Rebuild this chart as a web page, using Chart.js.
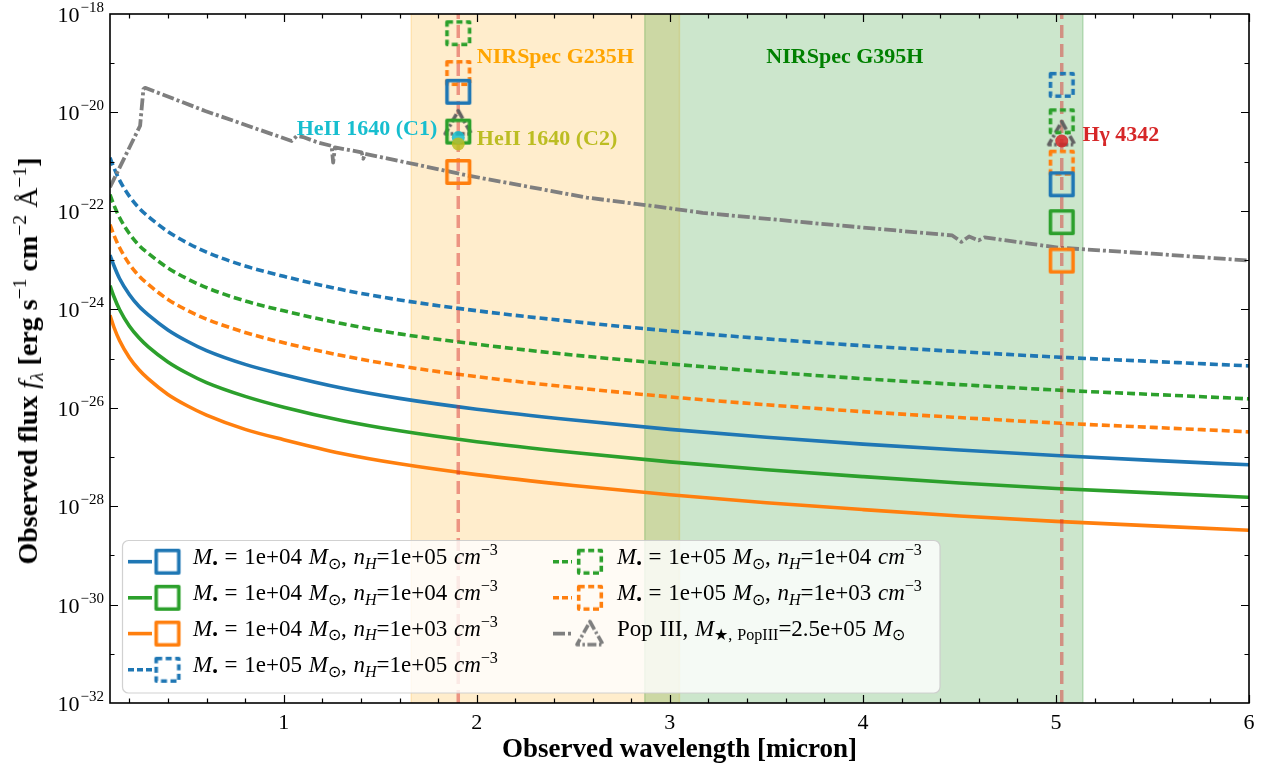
<!DOCTYPE html>
<html>
<head>
<meta charset="utf-8">
<script src="https://cdn.jsdelivr.net/npm/chart.js@4.4.1/dist/chart.umd.min.js"></script>
<style>
  html, body { margin: 0; padding: 0; background: #fff; }
  #wrap { position: relative; width: 1271px; height: 770px; overflow: hidden; }
  #wrap canvas { position: absolute; left: 0; top: 0; }
  .ytitle {
    position: absolute; left: 28px; top: 361px;
    transform: translate(-50%, -50%) rotate(-90deg);
    font: bold 28px "Liberation Serif", serif; line-height: 28px; white-space: nowrap;
  }
  .ytitle .m { font-weight: normal; }
  .leg {
    position: absolute; height: 36px; line-height: 36px; white-space: nowrap;
    font: 23px "Liberation Serif", serif; word-spacing: 1px; color: #000;
  }
  sup, sub { font-size: 0.7em; line-height: 0; position: relative; vertical-align: baseline; }
  sup { top: -0.55em; }
  sub { top: 0.3em; }
</style>
</head>
<body>
<div id="wrap">
  <canvas id="sed" width="1271" height="770"></canvas>
  <div class="ytitle">Observed flux <i class="m">f</i><sub class="m"><i>λ</i></sub> [erg s<sup class="m">−1</sup> cm<sup class="m">−2</sup> <span class="m">Å</span><sup class="m">−1</sup>]</div>
</div>
<script>
// wavelength grid (micron) for the model continua
const waveGrid = [0.1, 0.12, 0.15, 0.2, 0.25, 0.3, 0.4, 0.5, 0.6, 0.8, 1.0, 1.3, 1.6, 2.0, 2.5, 3.0, 3.5, 4.0, 4.5, 5.0, 5.5, 6.0];

// log10 flux of each model continuum
const logM4n5 = [-22.90, -23.11, -23.38, -23.70, -23.94, -24.12, -24.42, -24.65, -24.84, -25.12, -25.33, -25.60, -25.81, -26.03, -26.25, -26.44, -26.60, -26.74, -26.86, -26.97, -27.07, -27.16];
const logM4n4 = [-23.52, -23.74, -24.01, -24.34, -24.58, -24.77, -25.07, -25.30, -25.49, -25.77, -25.99, -26.26, -26.47, -26.69, -26.91, -27.10, -27.26, -27.40, -27.53, -27.64, -27.73, -27.82];
const logM4n3 = [-24.12, -24.36, -24.64, -24.98, -25.23, -25.42, -25.73, -25.96, -26.15, -26.44, -26.65, -26.93, -27.14, -27.36, -27.58, -27.77, -27.93, -28.07, -28.20, -28.31, -28.40, -28.49];
const logM5n5 = [-20.92, -21.12, -21.38, -21.70, -21.94, -22.12, -22.42, -22.65, -22.84, -23.12, -23.33, -23.60, -23.81, -24.03, -24.25, -24.44, -24.60, -24.74, -24.86, -24.97, -25.06, -25.15];
const logM5n4 = [-21.67, -21.88, -22.14, -22.46, -22.70, -22.87, -23.16, -23.38, -23.56, -23.83, -24.03, -24.29, -24.50, -24.71, -24.93, -25.11, -25.27, -25.41, -25.53, -25.64, -25.73, -25.82];
const logM5n3 = [-22.28, -22.49, -22.75, -23.08, -23.32, -23.50, -23.80, -24.02, -24.20, -24.47, -24.68, -24.94, -25.15, -25.37, -25.59, -25.78, -25.94, -26.08, -26.20, -26.31, -26.40, -26.49];

// Pop III spectrum
const popWave = [0.1, 0.256, 0.273, 0.282, 0.593, 1.041, 1.067, 1.10, 1.177, 1.248, 1.256, 1.265, 1.403, 1.412, 1.421, 1.964, 2.569, 2.91, 3.17, 3.775, 4.463, 4.51, 4.55, 4.60, 4.63, 5.017, 5.50, 6.0];
const popLog  = [-21.52, -20.27, -19.53, -19.50, -19.97, -20.58, -20.48, -20.50, -20.61, -20.68, -21.02, -20.71, -20.81, -20.94, -20.84, -21.29, -21.73, -21.90, -22.04, -22.26, -22.50, -22.63, -22.52, -22.60, -22.54, -22.75, -22.87, -23.01];

// emission lines: HeII 1640 and Hgamma 4342 (observed micron)
const lineWaves = [1.904, 5.03];
const lineM4n5 = [-19.58, -21.46];
const lineM4n4 = [-20.39, -22.23];
const lineM4n3 = [-21.21, -23.01];
const lineM5n5 = [null, -19.44];
const lineM5n4 = [-18.39, -20.18];
const lineM5n3 = [-19.20, -21.02];
const linePop  = [-20.21, -20.43];

// observed line fluxes: HeII (C1), HeII (C2), Hgamma
const obsWave = [1.904, 1.904, 5.03];
const obsLog  = [-20.51, -20.64, -20.58];

// NIRSpec grating ranges (micron)
const g235h = [1.66, 3.05];
const g395h = [2.87, 5.14];

// axis ticks
const xTickLabels = [1, 2, 3, 4, 5, 6];
const yTickExps = [-32, -30, -28, -26, -24, -22, -20, -18];

const BLUE = '#1f77b4', GREEN = '#2ca02c', ORANGE = '#ff7f0e', GRAY = '#7f7f7f';
const SERIF = '"Liberation Serif", serif';

const pts = (xs, logs) => xs.map((x, i) => ({ x: x, y: logs[i] == null ? null : Math.pow(10, logs[i]) }));

function squareMarker(color, dash) {
    const c = document.createElement('canvas');
    c.width = 32; c.height = 32;
    const g = c.getContext('2d');
    g.strokeStyle = color;
    g.lineWidth = 3.6;
    g.lineJoin = 'round';
    g.setLineDash(dash);
    g.strokeRect(4.7, 4.7, 22.6, 22.6);
    return c;
}

function triangleMarker(color) {
    const c = document.createElement('canvas');
    c.width = 34; c.height = 32;
    const g = c.getContext('2d');
    g.strokeStyle = color;
    g.lineWidth = 3.6;
    g.lineJoin = 'round';
    g.setLineDash([9, 2.5, 2.5, 2.5]);
    g.beginPath();
    g.moveTo(17, 4);
    g.lineTo(30, 27);
    g.lineTo(4, 27);
    g.closePath();
    g.stroke();
    return c;
}

const markers = {
    m4n5: squareMarker(BLUE, []),
    m4n4: squareMarker(GREEN, []),
    m4n3: squareMarker(ORANGE, []),
    m5n5: squareMarker(BLUE, [6, 3.5]),
    m5n4: squareMarker(GREEN, [6, 3.5]),
    m5n3: squareMarker(ORANGE, [6, 3.5]),
    pop: triangleMarker('#626262'),
    popLeg: triangleMarker(GRAY)
};

const curve = (data, color, dashed) => ({
    data: data,
    showLine: true,
    borderColor: color,
    borderWidth: 3.6,
    borderDash: dashed ? [8, 4] : [],
    borderJoinStyle: 'round',
    pointRadius: 0,
    cubicInterpolationMode: 'monotone',
    fill: false,
    order: 5
});

const markerSet = (data, img) => ({
    data: data,
    showLine: false,
    pointStyle: img,
    pointRadius: 14,
    borderWidth: 0,
    order: 1
});

const vline = (x) => ({
    data: [{ x: x, y: 1e-32 }, { x: x, y: 1e-18 }],
    showLine: true,
    borderColor: 'rgba(214,39,40,0.45)',
    borderWidth: 3.5,
    borderDash: [13, 6],
    pointRadius: 0,
    order: 2
});

const datasets = [
    curve(pts(waveGrid, logM4n5), BLUE, false),
    curve(pts(waveGrid, logM4n4), GREEN, false),
    curve(pts(waveGrid, logM4n3), ORANGE, false),
    curve(pts(waveGrid, logM5n5), BLUE, true),
    curve(pts(waveGrid, logM5n4), GREEN, true),
    curve(pts(waveGrid, logM5n3), ORANGE, true),
    {
        data: pts(popWave, popLog),
        showLine: true,
        borderColor: GRAY,
        borderWidth: 3.8,
        borderDash: [12, 3, 3, 3],
        borderJoinStyle: 'round',
        pointRadius: 0,
        tension: 0,
        order: 3
    },
    vline(lineWaves[0]),
    vline(lineWaves[1]),
    markerSet(pts(lineWaves, lineM4n5), markers.m4n5),
    markerSet(pts(lineWaves, lineM4n4), markers.m4n4),
    markerSet(pts(lineWaves, lineM4n3), markers.m4n3),
    markerSet(pts(lineWaves, lineM5n5), markers.m5n5),
    markerSet(pts(lineWaves, lineM5n4), markers.m5n4),
    markerSet(pts(lineWaves, lineM5n3), markers.m5n3),
    markerSet(pts(lineWaves, linePop), markers.pop),
    {
        data: pts(obsWave, obsLog),
        showLine: false,
        pointRadius: 6.5,
        pointBorderWidth: 0,
        pointBackgroundColor: ['rgba(23,190,207,0.85)', 'rgba(188,189,34,0.85)', 'rgba(214,39,40,0.85)'],
        order: 0
    }
];

// text annotations placed in data coordinates
const annotations = [
    { text: 'NIRSpec G235H', x: 2.0, y: 1e-19, align: 'left', color: '#ffa500' },
    { text: 'NIRSpec G395H', x: 3.5, y: 1e-19, align: 'left', color: '#008000' },
    { text: 'HeII 1640 (C1)', x: 1.795, y: Math.pow(10, -20.45), align: 'right', color: '#17becf' },
    { text: 'HeII 1640 (C2)', x: 2.0, y: Math.pow(10, -20.66), align: 'left', color: '#bcbd22' },
    { text: 'Hγ 4342', x: 5.137, y: Math.pow(10, -20.58), align: 'left', color: '#d62728' }
];

const legendBox = { left: 122.5, top: 540.5, right: 940, bottom: 693 };
const legendCols = [
    { lineFrom: 128, lineTo: 152, marker: 167.5, text: 193 },
    { lineFrom: 553, lineTo: 572, marker: 590, text: 617 }
];
const legendRowY = [561.7, 597.8, 633.6, 669.8];
const legendEntries = [
    { col: 0, row: 0, color: BLUE, dash: [], marker: markers.m4n5,
      label: '<i>M</i><sub>•</sub> = 1e+04 <i>M</i><sub>⊙</sub>, <i>n</i><sub><i>H</i></sub>=1e+05 <i>cm</i><sup>−3</sup>' },
    { col: 0, row: 1, color: GREEN, dash: [], marker: markers.m4n4,
      label: '<i>M</i><sub>•</sub> = 1e+04 <i>M</i><sub>⊙</sub>, <i>n</i><sub><i>H</i></sub>=1e+04 <i>cm</i><sup>−3</sup>' },
    { col: 0, row: 2, color: ORANGE, dash: [], marker: markers.m4n3,
      label: '<i>M</i><sub>•</sub> = 1e+04 <i>M</i><sub>⊙</sub>, <i>n</i><sub><i>H</i></sub>=1e+03 <i>cm</i><sup>−3</sup>' },
    { col: 0, row: 3, color: BLUE, dash: [6, 3], marker: markers.m5n5,
      label: '<i>M</i><sub>•</sub> = 1e+05 <i>M</i><sub>⊙</sub>, <i>n</i><sub><i>H</i></sub>=1e+05 <i>cm</i><sup>−3</sup>' },
    { col: 1, row: 0, color: GREEN, dash: [6, 3], marker: markers.m5n4,
      label: '<i>M</i><sub>•</sub> = 1e+05 <i>M</i><sub>⊙</sub>, <i>n</i><sub><i>H</i></sub>=1e+04 <i>cm</i><sup>−3</sup>' },
    { col: 1, row: 1, color: ORANGE, dash: [6, 3], marker: markers.m5n3,
      label: '<i>M</i><sub>•</sub> = 1e+05 <i>M</i><sub>⊙</sub>, <i>n</i><sub><i>H</i></sub>=1e+03 <i>cm</i><sup>−3</sup>' },
    { col: 1, row: 2, color: GRAY, dash: [12, 3, 3, 3], marker: markers.popLeg,
      label: 'Pop III, <i>M</i><sub>★, PopIII</sub>=2.5e+05 <i>M</i><sub>⊙</sub>' }
];

// legend text as html
const wrap = document.getElementById('wrap');
legendEntries.forEach(e => {
    const d = document.createElement('div');
    d.className = 'leg';
    d.style.left = legendCols[e.col].text + 'px';
    d.style.top = (legendRowY[e.row] - 18) + 'px';
    d.innerHTML = e.label;
    wrap.appendChild(d);
});

function roundRect(ctx, x0, y0, x1, y1, r) {
    ctx.beginPath();
    ctx.moveTo(x0 + r, y0);
    ctx.arcTo(x1, y0, x1, y1, r);
    ctx.arcTo(x1, y1, x0, y1, r);
    ctx.arcTo(x0, y1, x0, y0, r);
    ctx.arcTo(x0, y0, x1, y0, r);
    ctx.closePath();
}

const framePlugin = {
    id: 'frame',
    beforeDatasetsDraw(chart) {
        const { ctx, chartArea: a, scales: { x } } = chart;
        ctx.save();
        [[g235h, 'rgba(255,165,0,0.2)'], [g395h, 'rgba(0,128,0,0.2)']].forEach(([r, col]) => {
            const x0 = x.getPixelForValue(r[0]);
            const x1 = x.getPixelForValue(r[1]);
            ctx.fillStyle = col;
            ctx.fillRect(x0, a.top, x1 - x0, a.bottom - a.top);
            ctx.strokeStyle = col;
            ctx.lineWidth = 1.5;
            ctx.beginPath();
            ctx.moveTo(x0, a.top); ctx.lineTo(x0, a.bottom);
            ctx.moveTo(x1, a.top); ctx.lineTo(x1, a.bottom);
            ctx.stroke();
        });
        ctx.restore();
    },
    afterDatasetsDraw(chart) {
        const { ctx, chartArea: a, scales: { x, y } } = chart;
        ctx.save();

        // annotations
        ctx.font = 'bold 22px ' + SERIF;
        ctx.textBaseline = 'alphabetic';
        annotations.forEach(t => {
            ctx.fillStyle = t.color;
            ctx.textAlign = t.align;
            ctx.fillText(t.text, x.getPixelForValue(t.x), y.getPixelForValue(t.y));
        });

        // ticks (inward, all sides)
        ctx.strokeStyle = '#000';
        ctx.lineWidth = 1.2;
        ctx.beginPath();
        for (let k = 1; k <= 30; k++) {
            const v = k * 0.2;
            const px = Math.round(x.getPixelForValue(v)) + 0.5;
            const len = k % 5 === 0 ? 8 : 4.5;
            ctx.moveTo(px, a.bottom); ctx.lineTo(px, a.bottom - len);
            ctx.moveTo(px, a.top); ctx.lineTo(px, a.top + len);
        }
        for (let e = -31; e <= -19; e++) {
            const py = Math.round(y.getPixelForValue(Math.pow(10, e))) + 0.5;
            const len = e % 2 === 0 ? 8 : 4.5;
            ctx.moveTo(a.left, py); ctx.lineTo(a.left + len, py);
            ctx.moveTo(a.right, py); ctx.lineTo(a.right - len, py);
        }
        ctx.stroke();

        // frame
        ctx.lineWidth = 1.6;
        ctx.strokeRect(a.left, a.top, a.right - a.left, a.bottom - a.top);

        // tick labels
        ctx.fillStyle = '#000';
        ctx.font = '22px ' + SERIF;
        ctx.textAlign = 'center';
        xTickLabels.forEach(v => {
            ctx.fillText(String(v), x.getPixelForValue(v), a.bottom + 26);
        });
        yTickExps.forEach(e => {
            const py = y.getPixelForValue(Math.pow(10, e));
            const sup = '−' + String(-e);
            ctx.font = '15px ' + SERIF;
            const sw = ctx.measureText(sup).width;
            ctx.textAlign = 'left';
            const supX = a.left - 6 - sw;
            ctx.fillText(sup, supX, py - 2);
            ctx.font = '22px ' + SERIF;
            ctx.textAlign = 'right';
            ctx.fillText('10', supX - 1, py + 8);
        });

        // x title
        ctx.font = 'bold 27px ' + SERIF;
        ctx.textAlign = 'center';
        ctx.fillText('Observed wavelength [micron]', (a.left + a.right) / 2, 757);

        // legend frame and handles
        roundRect(ctx, legendBox.left, legendBox.top, legendBox.right, legendBox.bottom, 6);
        ctx.fillStyle = 'rgba(255,255,255,0.8)';
        ctx.fill();
        ctx.strokeStyle = 'rgba(204,204,204,0.9)';
        ctx.lineWidth = 1.2;
        ctx.stroke();
        legendEntries.forEach(e => {
            const c = legendCols[e.col];
            const cy = legendRowY[e.row];
            ctx.strokeStyle = e.color;
            ctx.lineWidth = 3.6;
            ctx.setLineDash(e.dash);
            ctx.beginPath();
            ctx.moveTo(c.lineFrom, cy);
            ctx.lineTo(c.lineTo, cy);
            ctx.stroke();
            ctx.setLineDash([]);
            ctx.drawImage(e.marker, c.marker - e.marker.width / 2, cy - e.marker.height / 2);
        });
        ctx.restore();
    }
};

new Chart(document.getElementById('sed').getContext('2d'), {
    type: 'line',
    data: { datasets: datasets },
    options: {
        responsive: false,
        animation: false,
        layout: { padding: { left: 110, right: 22, top: 13, bottom: 67 } },
        plugins: {
            legend: { display: false },
            tooltip: { enabled: false }
        },
        scales: {
            x: { type: 'linear', min: 0.1, max: 6, display: false },
            y: { type: 'logarithmic', min: 1e-32, max: 1e-18, display: false }
        }
    },
    plugins: [framePlugin]
});
</script>
</body>
</html>
